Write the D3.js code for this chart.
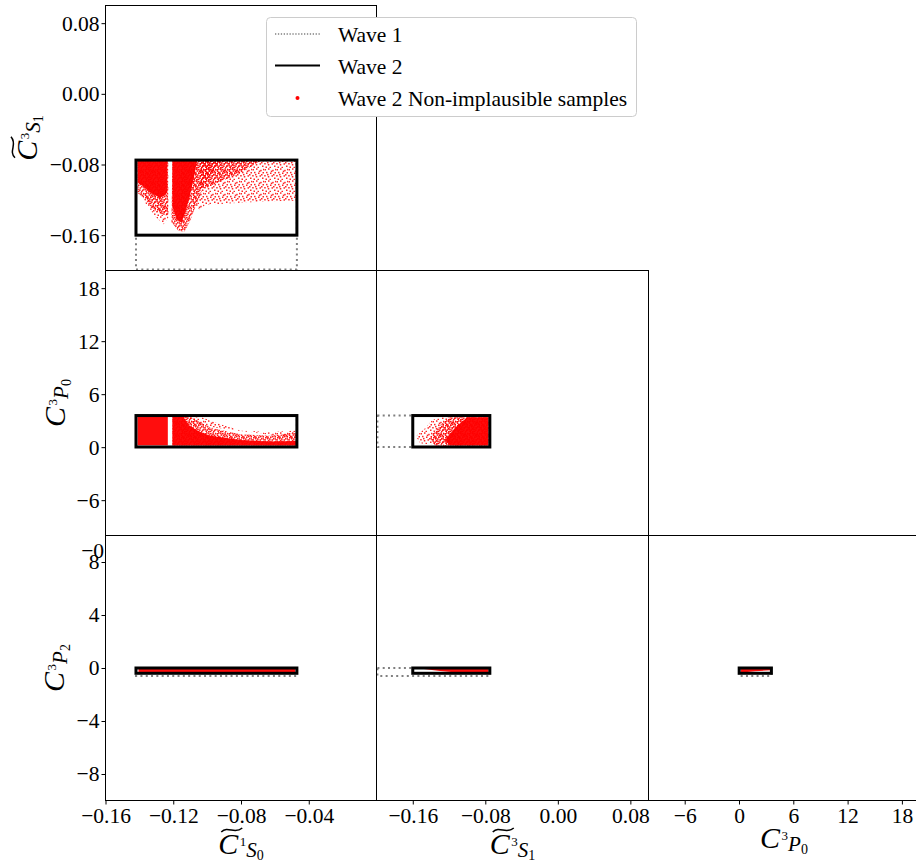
<!DOCTYPE html>
<html><head><meta charset="utf-8">
<script src="https://cdn.jsdelivr.net/npm/d3@7"></script>
<style>body{margin:0;background:#fff} svg{display:block}</style>
</head><body>
<svg id="chart" width="916" height="863"></svg>
<script>
// ---------------- data ----------------
const paramNames = ["1S0", "3S1", "3P0", "3P2"];
const paramTilde = [true, true, false, false];
const axisDomains = [[-0.16, 0.0], [-0.2, 0.1], [-10, 20], [-10, 10]];
const wave1Lo = [-0.142, -0.199, 0.02, -0.6];
const wave1Hi = [-0.047, -0.075, 3.58, 0.0];
const wave2Lo = [-0.142, -0.16, 0.02, -0.4];
const wave2Hi = [-0.047, -0.075, 3.58, 0.0];

const xTickValues = [[-0.16, -0.12, -0.08, -0.04], [-0.16, -0.08, 0.0, 0.08], [-6, 0, 6, 12, 18]];
const xTickLabels = [["−0.16", "−0.12", "−0.08", "−0.04"], ["−0.16", "−0.08", "0.00", "0.08"], ["−6", "0", "6", "12", "18"]];
const yTickValues = [[-0.16, -0.08, 0.0, 0.08], [-6, 0, 6, 12, 18], [-8, -4, 0, 4, 8]];
const yTickLabels = [["−0.16", "−0.08", "0.00", "0.08"], ["−6", "0", "6", "12", "18"], ["−8", "−4", "0", "4", "8"]];

const legendLabels = ["Wave 1", "Wave 2", "Wave 2 Non-implausible samples"];

// panels: [row, col]; x parameter = col, y parameter = row + 1
const panels = [[0, 0], [1, 0], [1, 1], [2, 0], [2, 1], [2, 2]];

// Non-implausible sample clouds (outline of regions, level: 3 dense, 2 medium, 1 sparse)
const samples00 = [
  {level: 1, pts: [[-0.1099,-0.076],[-0.0474,-0.076],[-0.0474,-0.121],[-0.0628,-0.1215],[-0.0804,-0.1234],[-0.0922,-0.1246],[-0.1011,-0.1257],[-0.1040,-0.131],[-0.1087,-0.128]]},
  {level: 1, pts: [[-0.1382,-0.112],[-0.1364,-0.124],[-0.1300,-0.140],[-0.1258,-0.148],[-0.1229,-0.140],[-0.1229,-0.120]]},
  {level: 2, pts: [[-0.1411,-0.076],[-0.1229,-0.076],[-0.1229,-0.138],[-0.1258,-0.137],[-0.1300,-0.133],[-0.1335,-0.127],[-0.1364,-0.120],[-0.1411,-0.112]]},
  {level: 2, pts: [[-0.1205,-0.076],[-0.0922,-0.076],[-0.1011,-0.100],[-0.1070,-0.128],[-0.1099,-0.143],[-0.1134,-0.156],[-0.1170,-0.155],[-0.1211,-0.145]]},
  {level: 2, pts: [[-0.1040,-0.076],[-0.0687,-0.076],[-0.0804,-0.090],[-0.0981,-0.104],[-0.1040,-0.108]]},
  {level: 3, pts: [[-0.1411,-0.076],[-0.1235,-0.076],[-0.1235,-0.112],[-0.1276,-0.118],[-0.1335,-0.112],[-0.1382,-0.104],[-0.1411,-0.100]]},
  {level: 3, pts: [[-0.1205,-0.076],[-0.1060,-0.076],[-0.1080,-0.097],[-0.1105,-0.118],[-0.1132,-0.136],[-0.1152,-0.146],[-0.1180,-0.142],[-0.1205,-0.128]]}
];
const samples10 = [
  {level: 1, pts: [[-0.1129,3.45],[-0.1040,3.45],[-0.0922,2.6],[-0.0804,1.9],[-0.0628,1.7],[-0.0474,1.9],[-0.0474,1.0],[-0.1099,2.6]]},
  {level: 2, pts: [[-0.1205,3.45],[-0.1100,3.45],[-0.1040,2.8],[-0.0981,2.2],[-0.0804,1.45],[-0.0628,1.3],[-0.0474,1.6],[-0.0474,0.2],[-0.1205,0.2]]},
  {level: 3, pts: [[-0.1411,0.2],[-0.1411,3.45],[-0.1232,3.45],[-0.1232,0.2]]},
  {level: 3, pts: [[-0.1205,0.2],[-0.1205,3.45],[-0.1140,3.45],[-0.1110,2.5],[-0.1050,1.8],[-0.0981,1.3],[-0.0804,0.8],[-0.0628,0.65],[-0.0474,0.7],[-0.0474,0.2]]}
];
const samples11 = [
  {level: 1, pts: [[-0.1564,1.23],[-0.1465,2.14],[-0.1388,3.04],[-0.130,3.40],[-0.0765,3.40],[-0.0765,0.2],[-0.130,0.2],[-0.152,0.44]]},
  {level: 2, pts: [[-0.141,1.0],[-0.130,2.48],[-0.1189,3.40],[-0.0765,3.40],[-0.0765,0.2],[-0.1355,0.2]]},
  {level: 3, pts: [[-0.1245,0.78],[-0.1134,2.2],[-0.1000,3.40],[-0.0765,3.40],[-0.0765,0.2],[-0.1189,0.2]]}
];
const samples20 = [
  {level: 3, pts: [[-0.1405,-0.03],[-0.0480,-0.03],[-0.0480,-0.36],[-0.1405,-0.36]]}
];
const samples21 = [
  {level: 3, pts: [[-0.150,-0.05],[-0.0765,-0.05],[-0.0765,-0.36],[-0.108,-0.36],[-0.13,-0.22]]}
];
const samples22 = [
  {level: 3, pts: [[0.2,-0.05],[3.45,-0.05],[3.45,-0.17],[1.8,-0.25],[0.65,-0.33],[0.2,-0.36]]}
];
const panelSamples = [samples00, samples10, samples11, samples20, samples21, samples22];

// ---------------- drawing ----------------
const FONT = "'Liberation Serif','DejaVu Serif','Times New Roman',serif";
const svg = d3.select("#chart");

const defs = svg.append("defs");
function makePattern(id, size, dots, r, op) {
  const p = defs.append("pattern").attr("id", id).attr("patternUnits", "userSpaceOnUse")
    .attr("width", size).attr("height", size);
  dots.forEach(d => p.append("rect").attr("x", d[0]).attr("y", d[1]).attr("width", r).attr("height", r)
    .attr("fill", "#ff0000").attr("fill-opacity", op));
}
const sparseDots = [[0.5,1],[4,0.3],[8.2,1.8],[10.5,4],[2,3.8],[6,4.5],[0.2,7],[3.8,8],[7.5,7.2],[10,9.5],[5.5,10.8],[1.5,10.5],[9,6],[11,0.8],[6.8,2.6],[3,5.9]];
const mediumDots = sparseDots.concat([[2,0.2],[6,0.8],[9.8,2.6],[0.8,2.6],[4.5,2.2],[8,3.8],[11,6.2],[1,5],[5,6.3],[7,9.3],[2.5,9.2],[9,10.8],[11.2,8.5],[4,11],[0.3,8.8],[6.2,11.5],[8.5,0.2],[3.2,4.4],[5.2,8.6]]);
makePattern("sparse", 12, sparseDots, 1.5, 0.85);
makePattern("medium", 12, mediumDots, 1.6, 0.9);

const colX = [105.5, 376.5, 648.5, 920];
const rowY = [5.5, 270.5, 535.5, 800.5];
const xScales = [0, 1, 2].map(c => d3.scaleLinear().domain(axisDomains[c]).range([colX[c], colX[c + 1]]));
const yScales = [0, 1, 2].map(r => d3.scaleLinear().domain(axisDomains[r + 1]).range([rowY[r + 1], rowY[r]]));

function styleAxis(g) {
  g.select(".domain").remove();
  g.attr("font-family", FONT).attr("font-size", 21.5);
  g.selectAll("text").attr("fill", "#000");
  g.selectAll("line").attr("stroke", "#000");
}

panels.forEach(([r, c], i) => {
  const xs = xScales[c], ys = yScales[r];
  const px = c, py = r + 1;
  const g = svg.append("g");
  g.append("rect").attr("x", colX[c]).attr("y", rowY[r])
    .attr("width", colX[c + 1] - colX[c]).attr("height", rowY[r + 1] - rowY[r]).attr("fill", "#fff");

  const line = d3.line().x(p => xs(p[0])).y(p => ys(p[1])).curve(d3.curveLinearClosed);
  g.selectAll("path.sample").data(panelSamples[i]).join("path").attr("class", "sample")
    .attr("d", d => line(d.pts))
    .attr("fill", d => d.level === 3 ? "#ff0000" : d.level === 2 ? "url(#medium)" : "url(#sparse)")
    .attr("fill-opacity", d => d.level === 3 ? 0.95 : 1);

  // Wave 1 (dotted)
  g.append("rect")
    .attr("x", xs(wave1Lo[px])).attr("y", ys(wave1Hi[py]))
    .attr("width", xs(wave1Hi[px]) - xs(wave1Lo[px])).attr("height", ys(wave1Lo[py]) - ys(wave1Hi[py]))
    .attr("fill", "none").attr("stroke", "#808080").attr("stroke-width", 2).attr("stroke-dasharray", "2,3.3");
  // Wave 2 (solid)
  g.append("rect")
    .attr("x", xs(wave2Lo[px])).attr("y", ys(wave2Hi[py]))
    .attr("width", xs(wave2Hi[px]) - xs(wave2Lo[px])).attr("height", ys(wave2Lo[py]) - ys(wave2Hi[py]))
    .attr("fill", "none").attr("stroke", "#000").attr("stroke-width", 3);

  // frame
  g.append("rect").attr("x", colX[c]).attr("y", rowY[r])
    .attr("width", colX[c + 1] - colX[c]).attr("height", rowY[r + 1] - rowY[r])
    .attr("fill", "none").attr("stroke", "#000").attr("stroke-width", 1);

  if (r === 1 && c === 0) {
    // x tick labels of middle row (mostly hidden by the lower panel)
    const ax = d3.axisBottom(xs).tickValues(xTickValues[0]).tickFormat((d, k) => xTickLabels[0][k])
      .tickSizeInner(4).tickSizeOuter(0).tickPadding(3);
    const ag = g.append("g").attr("transform", `translate(0,${rowY[2]})`).call(ax);
    styleAxis(ag);
    ag.selectAll("line").remove();
  }
});

// left axes (column 0)
[0, 1, 2].forEach(r => {
  const ax = d3.axisLeft(yScales[r]).tickValues(yTickValues[r]).tickFormat((d, k) => yTickLabels[r][k])
    .tickSizeInner(4).tickSizeOuter(0).tickPadding(2);
  const g = svg.append("g").attr("transform", `translate(${colX[0]},0)`).call(ax);
  styleAxis(g);
});
// bottom axes (row 2)
[0, 1, 2].forEach(c => {
  const ax = d3.axisBottom(xScales[c]).tickValues(xTickValues[c]).tickFormat((d, k) => xTickLabels[c][k])
    .tickSizeInner(4).tickSizeOuter(0).tickPadding(3);
  const g = svg.append("g").attr("transform", `translate(0,${rowY[3]})`).call(ax);
  styleAxis(g);
});

// math labels: C (with optional wide tilde) and subscript ^{a}B_{c}
function mathLabel(g, name, tilde) {
  const t = g.append("text").attr("font-family", FONT).attr("fill", "#000");
  t.append("tspan").attr("font-style", "italic").attr("font-size", 30).text("C");
  t.append("tspan").attr("font-size", 13).attr("dx", 1.5).attr("dy", -8).text(name[0]);
  t.append("tspan").attr("font-style", "italic").attr("font-size", 21).attr("dy", 11).text(name[1]);
  t.append("tspan").attr("font-size", 14).attr("dy", 3).text(name[2]);
  const w = t.node().getComputedTextLength() + 1.5;
  const x0 = -w / 2;
  t.attr("x", x0);
  if (tilde) {
    const cw = t.node().getSubStringLength(0, 1);
    const x1 = x0 + 3, x2 = x0 + cw + 4;
    const L = x2 - x1;
    g.append("path")
      .attr("d", `M${x1},-22 C${x1 + L * 0.33},-29 ${x1 + L * 0.62},-19 ${x2},-26`)
      .attr("fill", "none").attr("stroke", "#000").attr("stroke-width", 1.5);
  }
}
// x labels
const xLabelPos = [[241, 854], [512.5, 854], [784, 848]];
[0, 1, 2].forEach(c => {
  const g = svg.append("g").attr("transform", `translate(${xLabelPos[c][0]},${xLabelPos[c][1]})`);
  mathLabel(g, paramNames[c], paramTilde[c]);
});
// y labels
const yLabelPos = [[37, 138], [65, 403], [64, 668]];
[0, 1, 2].forEach(r => {
  const g = svg.append("g").attr("transform", `translate(${yLabelPos[r][0]},${yLabelPos[r][1]}) rotate(-90)`);
  mathLabel(g, paramNames[r + 1], paramTilde[r + 1]);
});

// legend
const lg = svg.append("g").attr("font-family", FONT).attr("font-size", 21.5);
lg.append("rect").attr("x", 266.5).attr("y", 17.5).attr("width", 370).attr("height", 99).attr("rx", 4)
  .attr("fill", "#fff").attr("stroke", "#cccccc").attr("stroke-width", 1);
const legY = [34, 65.5, 98];
lg.append("line").attr("x1", 275).attr("x2", 320).attr("y1", legY[0]).attr("y2", legY[0])
  .attr("stroke", "#808080").attr("stroke-width", 1.3).attr("stroke-dasharray", "1.3,1.6");
lg.append("line").attr("x1", 275).attr("x2", 320).attr("y1", legY[1]).attr("y2", legY[1])
  .attr("stroke", "#000").attr("stroke-width", 2);
lg.append("circle").attr("cx", 297.5).attr("cy", legY[2]).attr("r", 2).attr("fill", "#ff0000");
lg.selectAll("text.leg").data(legendLabels).join("text").attr("class", "leg")
  .attr("x", 338).attr("y", (d, k) => legY[k] + 8).attr("fill", "#000").text(d => d);
</script>
</body></html>
